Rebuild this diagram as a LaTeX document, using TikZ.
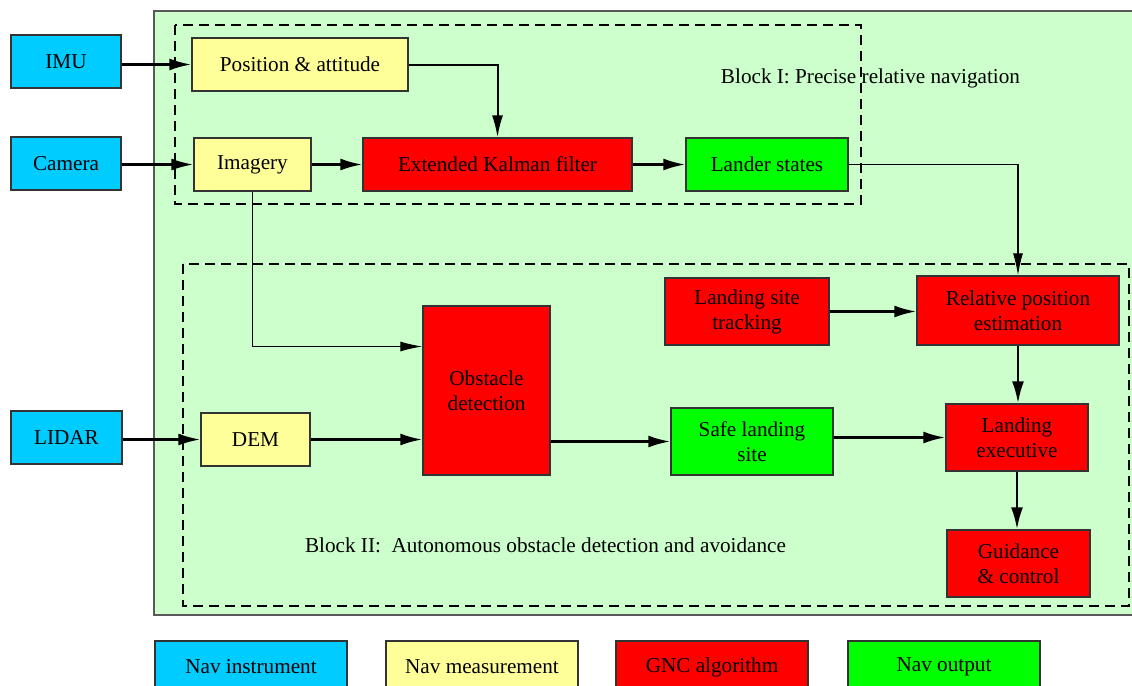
\documentclass[tikz,border=0pt]{standalone}
\usepackage{fontspec}
\setmainfont{Liberation Serif}
\usetikzlibrary{arrows.meta}
\definecolor{instcol}{HTML}{00CCFF}
\definecolor{meascol}{HTML}{FFFF99}
\definecolor{algcol}{HTML}{FF0000}
\definecolor{outcol}{HTML}{00FF00}
\definecolor{bgcol}{HTML}{CCFFCC}

\begin{document}
\begin{tikzpicture}[x=0.5pt,y=-0.5pt,
	font=\fontsize{10.6}{12.5}\selectfont,
	box/.style={draw=black!80,line width=0.7pt,align=center,inner sep=0pt},
	navinst/.style={box,fill=instcol},
	navmeas/.style={box,fill=meascol},
	gncalg/.style={box,fill=algcol},
	navout/.style={box,fill=outcol},
	flow/.style={line width=1.2pt,-{Latex[length=11pt,width=6pt]}},
	link/.style={line width=0.6pt,-{Latex[length=11pt,width=5pt]}},
	blockline/.style={line width=1pt,dash pattern=on 5pt off 3pt}]
	\useasboundingbox (0,0) rectangle (1132,686);
	\fill[white] (0,0) rectangle (1132,686);
	\draw[fill=bgcol,draw=black!65,line width=0.7pt] (154,11) rectangle (1136,615);
	\draw[blockline] (175,25) rectangle (861,204);
	\draw[blockline] (183,264) rectangle (1129,606);
	% instruments
	\node[navinst,minimum width=55pt,minimum height=26.5pt] (imu) at (66,61.5) {IMU};
	\node[navinst,minimum width=55pt,minimum height=26.5pt] (cam) at (66,163.5) {Camera};
	\node[navinst,minimum width=55.5pt,minimum height=26.5pt] (lidar) at (66.5,437.5) {LIDAR};
	% block I
	\node[navmeas,minimum width=108pt,minimum height=26.5pt] (pos) at (300,64.5) {Position \& attitude};
	\node[navmeas,minimum width=58.5pt,minimum height=26.5pt] (img) at (252.5,164.5) {Imagery};
	\node[gncalg,minimum width=134.5pt,minimum height=26.5pt] (ekf) at (497.5,164.5) {Extended Kalman filter};
	\node[navout,minimum width=81pt,minimum height=26.5pt] (lander) at (767,164.5) {Lander states};
	\node (blk1) at (870.5,78) {Block I: Precise relative navigation};
	% block II
	\node[navmeas,minimum width=54.5pt,minimum height=26.5pt] (dem) at (255.5,439.5) {DEM};
	\node[gncalg,minimum width=63.5pt,minimum height=84.5pt] (obst) at (486.5,390.5) {Obstacle\\detection};
	\node[gncalg,minimum width=82pt,minimum height=33.5pt] (lst) at (747,311.5) {Landing site\\tracking};
	\node[gncalg,minimum width=101pt,minimum height=34.5pt] (rpe) at (1018,310.5) {Relative position\\estimation};
	\node[navout,minimum width=81pt,minimum height=33.5pt] (safe) at (752,441.5) {Safe landing\\site};
	\node[gncalg,minimum width=71pt,minimum height=33.5pt] (lexec) at (1017,437.5) {Landing\\executive};
	\node[gncalg,minimum width=71.5pt,minimum height=33.5pt] (gc) at (1018.5,563.5) {Guidance\\\& control};
	\node (blk2) at (545.5,545) {Block II:\ \ Autonomous obstacle detection and avoidance};
	% legend
	\node[navinst,minimum width=96pt,minimum height=26pt] (leg1) at (251,667) {Nav instrument};
	\node[navmeas,minimum width=96pt,minimum height=26pt] (leg2) at (482,667) {Nav measurement};
	\node[gncalg,minimum width=96pt,minimum height=26pt] (leg3) at (712,667) {GNC algorithm};
	\node[navout,minimum width=96pt,minimum height=26pt] (leg4) at (944,667) {Nav output};
	% connectors
	\draw[flow] (imu.east |- pos.west) -- (pos.west);
	\draw[flow] (cam.east |- img.west) -- (img.west);
	\draw[flow] (img) -- (ekf);
	\draw[flow] (ekf) -- (lander);
	\draw[line width=1pt,-{Latex[length=11pt,width=5.5pt]}] (pos.east) -| (ekf.north);
	\draw[link] (lander.east) -| (rpe.north);
	\draw[link] (img.south) |- ([yshift=22pt]obst.west);
	\draw[flow] (lidar.east |- dem.west) -- (dem.west);
	\draw[flow] (dem.east) -- (dem.east -| obst.west);
	\draw[flow] (obst.east |- safe.west) -- (safe.west);
	\draw[flow] (safe.east |- lexec.west) -- (lexec.west);
	\draw[flow] (lst.east) -- (lst.east -| rpe.west);
	\draw[flow] (rpe.south) -- (rpe.south |- lexec.north);
	\draw[flow] (lexec.south) -- (lexec.south |- gc.north);
\end{tikzpicture}
\end{document}
